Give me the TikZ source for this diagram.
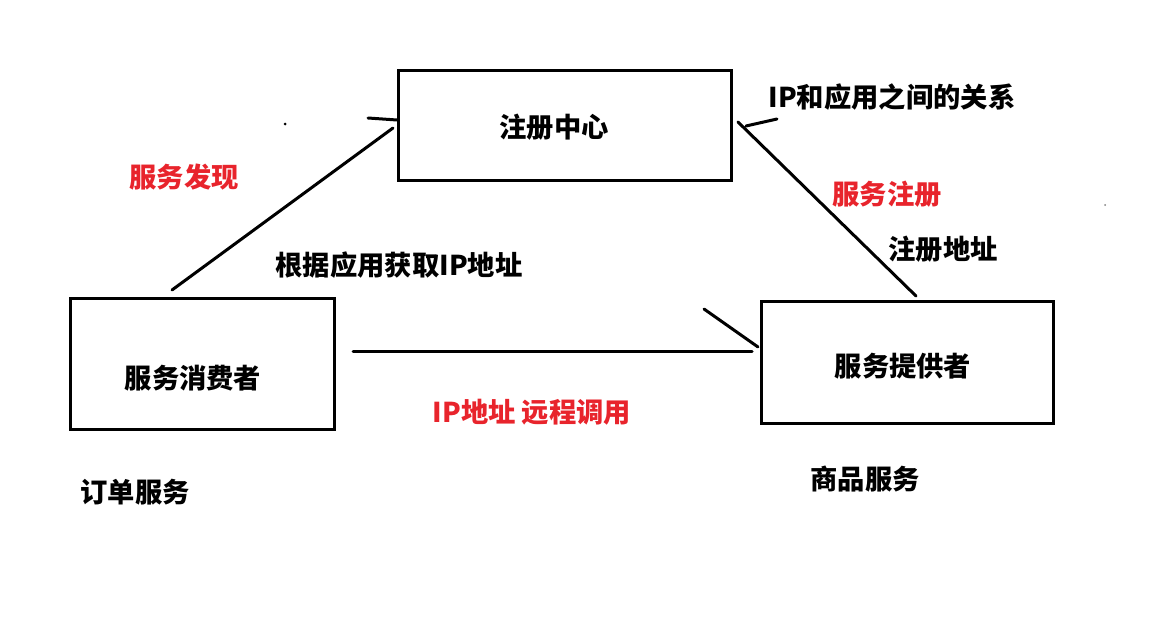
\documentclass[tikz,border=0pt]{standalone}
\usepackage{fontspec}
\newfontfamily\cjk{Noto Sans CJK SC}
\usetikzlibrary{positioning}
\definecolor{notered}{RGB}{232,36,44}

\begin{document}
\begin{tikzpicture}[
    x=1pt, y=-1pt,
    box/.style={draw, line width=3pt, inner sep=0pt},
    txt/.style={font=\cjk\bfseries\fontsize{27.3}{31}\selectfont, inner sep=0pt},
    note/.style={txt, text=notered},
    stroke/.style={line width=3pt, line cap=round}
  ]
    \useasboundingbox (0,0) rectangle (1169,621);
    % boxes
    \node[box, minimum width=333pt, minimum height=110pt] (center) at (565,125.5) {};
    \node[box, minimum width=264pt, minimum height=131pt] (consumer) at (202.5,364) {};
    \node[box, minimum width=292pt, minimum height=122pt] (provider) at (907.5,362.5) {};
    \node[txt] (centername) at (554,127) {注册中心};
    \node[txt] (consumername) at (193,378) {服务消费者};
    \node[txt] (providername) at (903,366) {服务提供者};
    % labels
    \node[note] (find) at (184,177) {服务发现};
    \node[txt] (lookup) at (399,265) {根据应用获取IP地址};
    \node[txt] (relation) at (892,97) {IP和应用之间的关系};
    \node[note] (reg) at (887,194) {服务注册};
    \node[txt] (regaddr) at (943,249) {注册地址};
    \node[note] (call) at (532,412) {IP地址 远程调用};
    \node[txt] (order) at (135,492) {订单服务};
    \node[txt] (goods) at (865,479) {商品服务};
    % connector ends
    \coordinate (find-s) at (172,290);
    \coordinate (find-e) at (393,128);
    \coordinate (find-b) at (368,118);
    \coordinate (find-t) at (397,120);
    \coordinate (reg-s) at (916,296);
    \coordinate (reg-e) at (738,122);
    \coordinate (reg-b) at (777,119);
    \coordinate (reg-t) at (746,126);
    \coordinate (call-s) at (353,351.5);
    \coordinate (call-e) at (752,351.5);
    \coordinate (call-b) at (704,309);
    \coordinate (call-t) at (758,347);
    \draw[stroke] (find-s) -- (find-e);
    \draw[stroke] (find-b) -- (find-t);
    \draw[stroke] (reg-s) -- (reg-e);
    \draw[stroke] (reg-b) -- (reg-t);
    \draw[stroke] (call-s) -- (call-e);
    \draw[stroke] (call-b) -- (call-t);
    % stray marks
    \fill (285,124) circle (1.5pt);
    \fill[gray] (1105,205) circle (1pt);
  \end{tikzpicture}
\end{document}
